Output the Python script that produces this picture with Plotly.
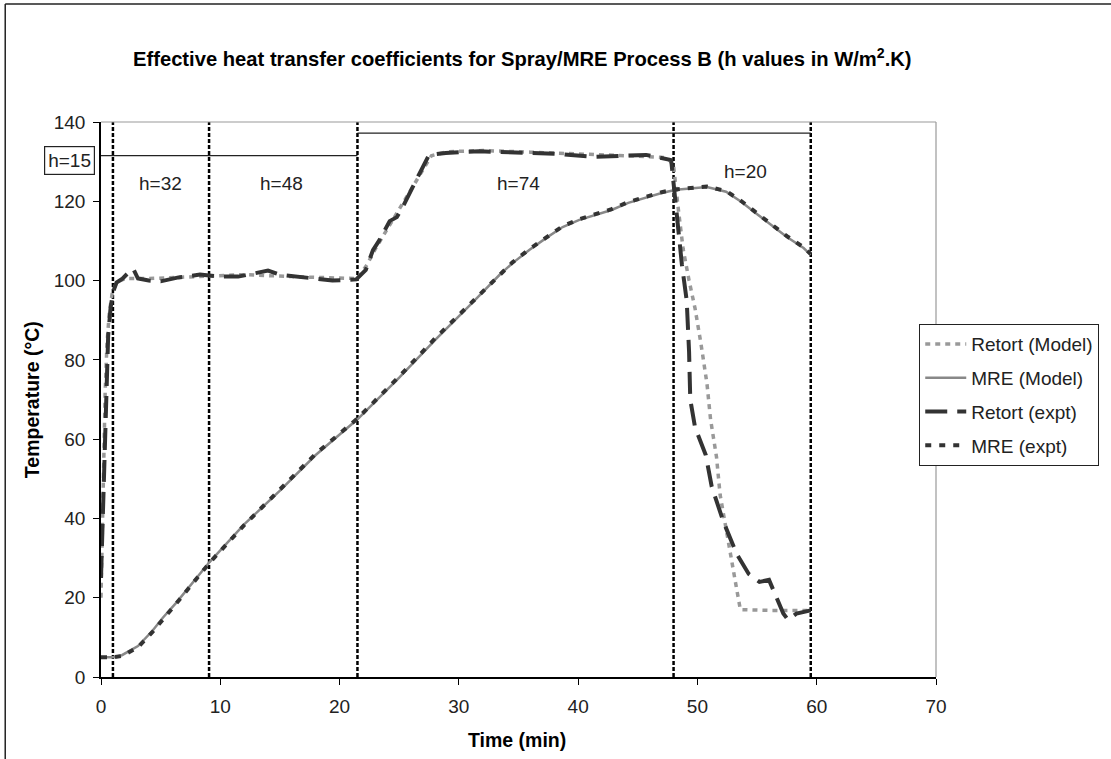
import plotly.graph_objects as go

# ---- data ----
retort_model_t = [0, 0.1, 0.2, 0.35, 0.5, 0.7, 0.95, 1.3, 2, 4, 8, 12, 16, 21.5,
                  22.3, 23, 24, 25, 26, 27, 27.7, 29, 32, 36, 40, 44, 47.5, 48,
                  48.4, 48.8, 49.3, 49.8, 50.3, 50.8, 51.1, 51.6, 51.9, 52.4, 52.9,
                  53.3, 53.6, 56, 59.5]
retort_model_T = [20, 38, 55, 72, 84, 92, 97, 99.5, 100.5, 100.5, 101, 101.5, 101, 100.5,
                  104, 108, 113, 118, 123, 128, 131.5, 132.5, 132.8, 132.4, 132, 131.5, 131, 129,
                  118, 108, 100, 93, 84, 74, 65, 55.5, 46, 37, 28,
                  22, 17, 16.8, 16.8]

mre_model_t = [0, 1, 1.75, 3.1, 4.3, 5.2, 6.3, 7.3, 8.5, 9.1, 12, 15, 18, 21.5, 25, 28,
               31.1, 33.4, 34.5, 35.9, 37.3, 38.7, 40.1, 41.5, 42.8, 44.2, 45.6, 47, 48.2,
               49.8, 50.8, 52.4, 53.7, 54.9, 56.4, 57.5, 58.9, 59.5]
mre_model_T = [5, 5, 5.5, 7.8, 11.6, 15, 18.7, 22.4, 26.6, 29, 38.5, 47, 56, 65, 75.5, 85,
               94.3, 101.4, 104.4, 107.7, 110.7, 113.5, 115.3, 116.5, 117.8, 119.6, 120.8, 122.1, 122.9,
               123.3, 123.6, 122.4, 119.8, 117, 113.5, 111, 108.2, 106.5]

retort_expt_t = [0, 0.08, 0.15, 0.25, 0.35, 0.45, 0.6, 0.8, 1.0, 1.3, 1.8, 2.3, 2.7, 3.1,
                 4, 5, 6.5, 8.3, 10, 11.5, 13.3, 14, 15, 16.6, 18, 19.4, 21.4,
                 22.2, 22.8, 23.3, 24.2, 24.8, 25.3, 26.1, 26.7, 27.5, 28.9, 31.7, 35.9,
                 38, 41.5, 45.7, 47.8, 48.1, 48.4, 48.7, 49.1, 49.3, 49.4, 49.8, 50.7,
                 51.2, 52.2, 53.3, 54.3, 55.2, 56, 56.6, 57.2, 57.6, 58.3, 59.5]
retort_expt_T = [25, 33, 42, 55, 67, 77, 86, 93, 97, 99.5, 100.5, 102, 103, 100.5,
                 100, 99.8, 100.8, 101.5, 101, 101, 102.2, 102.5, 101.5, 101, 100.5, 100, 100.3,
                 102.7, 107.7, 110, 115, 116, 118.6, 123.6, 127, 131.7, 132.2, 132.6, 132.2,
                 132, 131.2, 131.7, 130.4, 122, 112, 104, 95, 82, 70, 63, 56,
                 48, 39, 31, 26, 24, 24.5, 20, 16, 14.4, 16, 16.8]

mre_expt_t = [0, 1, 1.75, 3.1, 4.3, 5.2, 6.3, 7.3, 8.5, 9.1, 12, 15, 18, 21.5, 25, 28,
              31.1, 33.4, 34.5, 35.9, 37.3, 38.7, 40.1, 41.5, 42.8, 44.2, 45.6, 47, 48.2,
              49.8, 50.8, 52.4, 53.7, 54.9, 56.4, 57.5, 58.9, 59.5]
mre_expt_T = [5, 5, 5.3, 7.5, 11.3, 14.7, 18.5, 22.2, 26.4, 28.8, 38.3, 47.2, 56.3, 65.2, 75.8, 85.4,
              94.6, 101.6, 104.6, 107.9, 110.9, 113.7, 115.5, 116.7, 118, 119.8, 121, 122.3, 123,
              123.4, 123.7, 122.6, 120, 117.2, 113.7, 111.2, 108.4, 106.7]

series_names = ["Retort (Model)", "MRE (Model)", "Retort (expt)", "MRE (expt)"]

# phase boundaries and h-values
phase_bounds = [1.0, 9.06, 21.5, 48.0, 59.5]
h_labels = ["h=32", "h=48", "h=74", "h=20"]
h_label_x = [5.0, 15.1, 35.0, 54.0]
h_label_y = [124.6, 124.6, 124.6, 127.6]
h15_line = (0, 21.5, 131.5)
h_top_line = (21.5, 59.5, 137.2)

x_ticks = [0, 10, 20, 30, 40, 50, 60, 70]
y_ticks = [0, 20, 40, 60, 80, 100, 120, 140]

FONT = "Liberation Sans, Arial, sans-serif"

fig = go.Figure()
fig.add_trace(go.Scatter(x=retort_model_t, y=retort_model_T, name=series_names[0], mode="lines",
                         line=dict(color="#999999", width=3.5, dash="5px,5px"), legendgroup="a"))
fig.add_trace(go.Scatter(x=mre_model_t, y=mre_model_T, name=series_names[1], mode="lines",
                         line=dict(color="#888888", width=2.5), legendgroup="b"))
fig.add_trace(go.Scatter(x=retort_expt_t, y=retort_expt_T, name=series_names[2], mode="lines",
                         line=dict(color="#333333", width=4, dash="22px,10px"), legendgroup="c"))
fig.add_trace(go.Scatter(x=mre_expt_t, y=mre_expt_T, name=series_names[3], mode="lines",
                         line=dict(color="#333333", width=4, dash="6px,8px"), legendgroup="d"))

L, T_, W, H = 101, 122, 837, 555
def px2x(p):
    return (p - L) / W
def py2y(p):
    return (T_ + H - p) / H

shapes = []
for xb in phase_bounds:
    shapes.append(dict(type="line", xref="x", yref="y", x0=xb, x1=xb, y0=0, y1=140,
                       line=dict(color="black", width=2.5, dash="4px,2px"), layer="below"))
shapes.append(dict(type="line", xref="x", yref="y", x0=h15_line[0], x1=h15_line[1],
                   y0=h15_line[2], y1=h15_line[2], line=dict(color="#222", width=1.2)))
shapes.append(dict(type="line", xref="x", yref="y", x0=h_top_line[0], x1=h_top_line[1],
                   y0=h_top_line[2], y1=h_top_line[2], line=dict(color="#222", width=1.2)))
# plot-area top and right borders (gray)
shapes.append(dict(type="line", xref="paper", yref="paper", x0=0, x1=1, y0=1, y1=1,
                   line=dict(color="#999999", width=1.2)))
shapes.append(dict(type="line", xref="paper", yref="paper", x0=1, x1=1, y0=0, y1=1,
                   line=dict(color="#999999", width=1.2)))
# outer chart frame (top and left edges)
shapes.append(dict(type="line", xref="paper", yref="paper", x0=px2x(5), x1=px2x(1115),
                   y0=py2y(4), y1=py2y(4), line=dict(color="#222", width=1.5)))
shapes.append(dict(type="line", xref="paper", yref="paper", x0=px2x(5), x1=px2x(5),
                   y0=py2y(4), y1=py2y(765), line=dict(color="#222", width=1.5)))

def ann(text, x, y, xref="paper", yref="paper", size=19, **kw):
    return dict(text=text, x=x, y=y, xref=xref, yref=yref, showarrow=False,
                xanchor="center", yanchor="middle",
                font=dict(family=FONT, size=size, color=kw.pop("color", "#222")), **kw)

annotations = []
for lab, ax, ay in zip(h_labels, h_label_x, h_label_y):
    annotations.append(ann(lab, ax, ay, xref="x", yref="y"))
annotations.append(ann("h=15", px2x(69), py2y(161), bordercolor="#222", borderwidth=1.2,
                       borderpad=3, bgcolor="white"))
annotations.append(ann("<b>Time (min)</b>", px2x(518), py2y(740), size=19.5, color="black"))
annotations.append(ann("<b>Temperature (°C)</b>", px2x(32), py2y(400), size=19.5,
                       color="black", textangle=-90))
annotations.append(ann("<b>Effective heat transfer coefficients for Spray/MRE Process B (h values in W/m<sup>2</sup>.K)</b>",
                       px2x(524), py2y(57), size=20.2, color="black"))

fig.update_layout(
    width=1111, height=759,
    margin=dict(l=L, r=1111 - L - W, t=T_, b=759 - T_ - H),
    paper_bgcolor="white", plot_bgcolor="white",
    shapes=shapes, annotations=annotations,
    showlegend=True,
    legend=dict(x=px2x(921), y=py2y(395), xanchor="left", yanchor="middle",
                bordercolor="#222", borderwidth=1.2, bgcolor="white",
                font=dict(family=FONT, size=19, color="#222"),
                traceorder="grouped", tracegroupgap=6, itemwidth=41),
    xaxis=dict(range=[0, 70], tickvals=x_ticks, ticks="outside", ticklen=6, tickwidth=1.2,
               tickcolor="black", showline=True, linecolor="black", linewidth=1.5,
               showgrid=False, zeroline=False, fixedrange=True, ticklabelstandoff=5,
               tickfont=dict(family=FONT, size=19, color="#222")),
    yaxis=dict(range=[0, 140], tickvals=y_ticks, ticks="outside", ticklen=6, tickwidth=1.2,
               tickcolor="black", showline=True, linecolor="black", linewidth=1.5,
               showgrid=False, zeroline=False, fixedrange=True, ticklabelstandoff=4,
               tickfont=dict(family=FONT, size=19, color="#222")),
)

fig.write_html("out.html")
